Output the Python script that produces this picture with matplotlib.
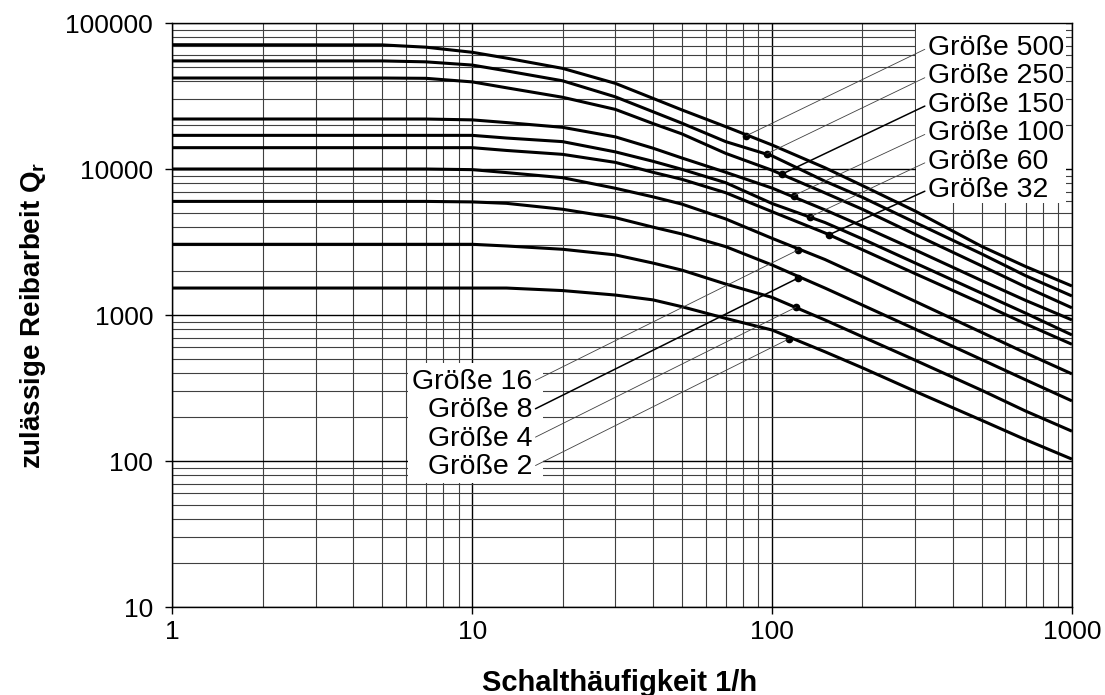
import numpy as np
import matplotlib
matplotlib.use("Agg")
import matplotlib.pyplot as plt
from matplotlib.ticker import LogLocator, NullFormatter
from matplotlib.patches import Rectangle

plt.rcParams['font.family'] = ['Liberation Sans', 'DejaVu Sans']
plt.rcParams['mathtext.fontset'] = 'custom'
plt.rcParams['mathtext.rm'] = 'Liberation Sans'
plt.rcParams['mathtext.bf'] = 'Liberation Sans:bold'

# Schalthäufigkeit (1/h), common x positions of the read-off points
freq = [1, 5, 7, 10, 13, 20, 30, 40, 50, 70, 100, 150, 200, 300, 500, 700, 1000]

# zulässige Reibarbeit per Größe
q500 = [71000, 70800, 68300, 63000, 57500, 48900, 38600, 30500, 25400, 19500, 14600, 10200, 7700, 5150, 2950, 2150, 1580]
q250 = [55000, 55000, 54200, 51500, 47000, 40200, 31200, 24700, 20600, 15400, 12300, 8250, 6400, 4300, 2620, 1860, 1350]
q150 = [42000, 42000, 41800, 39500, 36000, 31000, 25600, 20500, 17400, 12800, 9800, 6860, 5300, 3560, 2170, 1560, 1120]
q100 = [22000, 22000, 22000, 21700, 20800, 19300, 16600, 13900, 11900, 9500, 7400, 5250, 4060, 2790, 1720, 1260, 925]
q60 = [17000, 17000, 17000, 17000, 16300, 15400, 13100, 11300, 9950, 8060, 5800, 4300, 3320, 2270, 1410, 1030, 730]
q32 = [14000, 14000, 14000, 14000, 13400, 12600, 11100, 9500, 8500, 6880, 5100, 3650, 2800, 1920, 1200, 870, 630]
q16 = [10000, 10000, 10000, 9900, 9450, 8720, 7380, 6450, 5750, 4550, 3350, 2400, 1830, 1240, 760, 550, 395]
q8 = [6000, 6000, 6000, 5950, 5820, 5300, 4640, 4000, 3590, 2940, 2200, 1530, 1170, 800, 495, 360, 258]
q4 = [3050, 3050, 3050, 3050, 2970, 2820, 2580, 2270, 2030, 1630, 1320, 925, 710, 490, 305, 220, 160]
q2 = [1530, 1530, 1530, 1530, 1530, 1470, 1370, 1270, 1140, 948, 789, 560, 435, 300, 190, 140, 103]

sizes = [500, 250, 150, 100, 60, 32, 16, 8, 4, 2]
curves = [q500, q250, q150, q100, q60, q32, q16, q8, q4, q2]

# marked points where the leader lines end
dot_x = [82, 96, 108, 118, 134, 155, 122, 122, 120, 114]
dot_y = [16900, 12700, 9240, 6570, 4710, 3550, 2790, 1790, 1130, 688]
heavy_leader = [150, 32, 8]

ytick_vals = [10, 100, 1000, 10000, 100000]
ytick_labels = ['10', '100', '1000', '10000', '100000']
xtick_vals = [1, 10, 100, 1000]
xtick_labels = ['1', '10', '100', '1000']

fig = plt.figure(figsize=(11.05, 6.95), dpi=100)
ax = fig.add_axes([0.1561, 0.1266, 0.8140, 0.8403])
ax.set_xscale('log')
ax.set_yscale('log')
ax.set_xlim(1, 1000)
ax.set_ylim(10, 100000)

ax.set_xticks(xtick_vals)
ax.set_xticklabels(xtick_labels)
ax.set_yticks(ytick_vals)
ax.set_yticklabels(ytick_labels)
ax.xaxis.set_minor_locator(LogLocator(base=10, subs=np.arange(2, 10)))
ax.yaxis.set_minor_locator(LogLocator(base=10, subs=np.arange(2, 10)))
ax.xaxis.set_minor_formatter(NullFormatter())
ax.yaxis.set_minor_formatter(NullFormatter())

ax.set_axisbelow(True)
ax.grid(which='major', color='black', lw=1.0)
ax.grid(which='minor', color='0.25', lw=0.8)
for s in ax.spines.values():
    s.set_color('black')
    s.set_linewidth(1.0)

ax.tick_params(which='major', direction='out', length=5, width=1, labelsize=19, colors='black')
ax.tick_params(axis='y', which='major', pad=9)
ax.tick_params(axis='x', which='major', pad=4)
ax.tick_params(which='minor', length=0)

for size, q in zip(sizes, curves):
    ax.plot(freq, q, color='black', lw=2.2, solid_joinstyle='round', solid_capstyle='butt', zorder=3)
ax.plot(dot_x, dot_y, 'o', color='black', ms=4.5, zorder=4)

# white label boxes
ax.add_patch(Rectangle((303, 5850), 955 - 303, 100000 - 5850, facecolor='white', edgecolor='none', zorder=1))
ax.add_patch(Rectangle((6.1, 70.7), 17.2 - 6.1, 469 - 70.7, facecolor='white', edgecolor='none', zorder=1))

step = 10 ** 0.1945
upper_y0 = 10 ** 4.829
lower_y0 = 10 ** 2.543
for i, (size, dx, dy) in enumerate(zip(sizes, dot_x, dot_y)):
    if size in heavy_leader:
        lw, lc = 1.1, 'black'
    else:
        lw, lc = 0.6, '0.25'
    if i < 6:
        tx, ty, ha, rel = 330, upper_y0 / step ** i, 'left', (0, 0.5)
    else:
        tx, ty, ha, rel = 15.9, lower_y0 / step ** (i - 6), 'right', (1, 0.5)
    ax.annotate(f'Größe {size}', xy=(dx, dy), xytext=(tx, ty), textcoords='data',
                ha=ha, va='center', fontsize=20.5, zorder=5,
                arrowprops=dict(arrowstyle='-', color=lc, lw=lw, shrinkA=0, shrinkB=0, relpos=rel))

ax.set_xlabel('Schalthäufigkeit 1/h', fontsize=21, fontweight='bold')
ax.xaxis.set_label_coords(0.4975, -0.130)
ax.xaxis.label.set_va('center')
ax.set_ylabel(r'zulässige Reibarbeit Q$_\mathbf{r}$', fontsize=20, fontweight='bold')
ax.yaxis.set_label_coords(-0.155, 0.5)
ax.yaxis.label.set_va('center')

fig.savefig('out.png', dpi=100)
